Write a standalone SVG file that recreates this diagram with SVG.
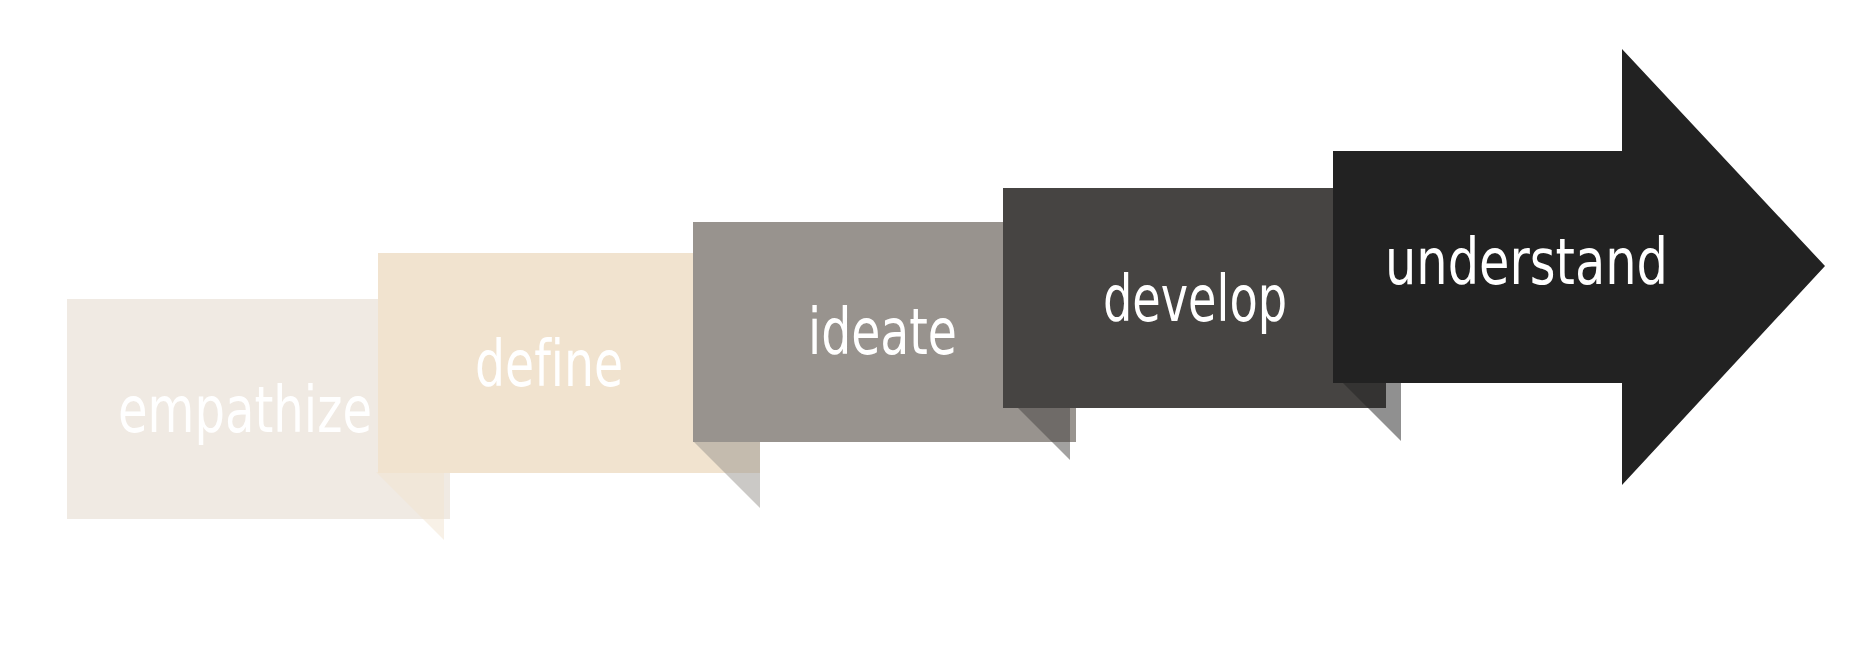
<svg xmlns="http://www.w3.org/2000/svg" width="1868" height="666" viewBox="0 0 1868 666">
  <style>
    .lbl { font-family: "DejaVu Sans Condensed", "DejaVu Sans", sans-serif; font-stretch: condensed; font-size: 64px; fill: #ffffff; font-variant-ligatures: none; font-feature-settings: "liga" 0; }
    .fold { opacity: 0.5; }
  </style>
  <rect x="0" y="0" width="1868" height="666" fill="#ffffff"/>
  <g id="connectors"></g>
  <g id="node-empathize">
    <rect x="67" y="299" width="383" height="220" fill="#f0eae3"/>
    <text class="lbl" x="118" y="432" textLength="254" lengthAdjust="spacingAndGlyphs">empathize</text>
  </g>
  <g id="node-define">
    <polygon class="fold" points="376,472 444,472 444,540" fill="#f1e3cf"/>
    <rect x="378" y="253" width="382" height="220" fill="#f1e3cf"/>
    <text class="lbl" x="475" y="386" textLength="148" lengthAdjust="spacingAndGlyphs">define</text>
  </g>
  <g id="node-ideate">
    <polygon class="fold" points="693,441 760,441 760,508" fill="#98938e"/>
    <rect x="693" y="222" width="383" height="220" fill="#98938e"/>
    <text class="lbl" x="808" y="354" textLength="149" lengthAdjust="spacingAndGlyphs">ideate</text>
  </g>
  <g id="node-develop">
    <polygon class="fold" points="1003,393 1070,393 1070,460" fill="#464442"/>
    <rect x="1003" y="188" width="383" height="220" fill="#464442"/>
    <text class="lbl" x="1103" y="321" textLength="184" lengthAdjust="spacingAndGlyphs">develop</text>
  </g>
  <g id="node-understand">
    <polygon class="fold" points="1334,374 1401,374 1401,441" fill="#222222"/>
    <polygon points="1333,151 1622,151 1622,49 1825,266 1622,485 1622,383 1333,383" fill="#222222"/>
    <text class="lbl" x="1385" y="284" textLength="283" lengthAdjust="spacingAndGlyphs">understand</text>
  </g>
</svg>
